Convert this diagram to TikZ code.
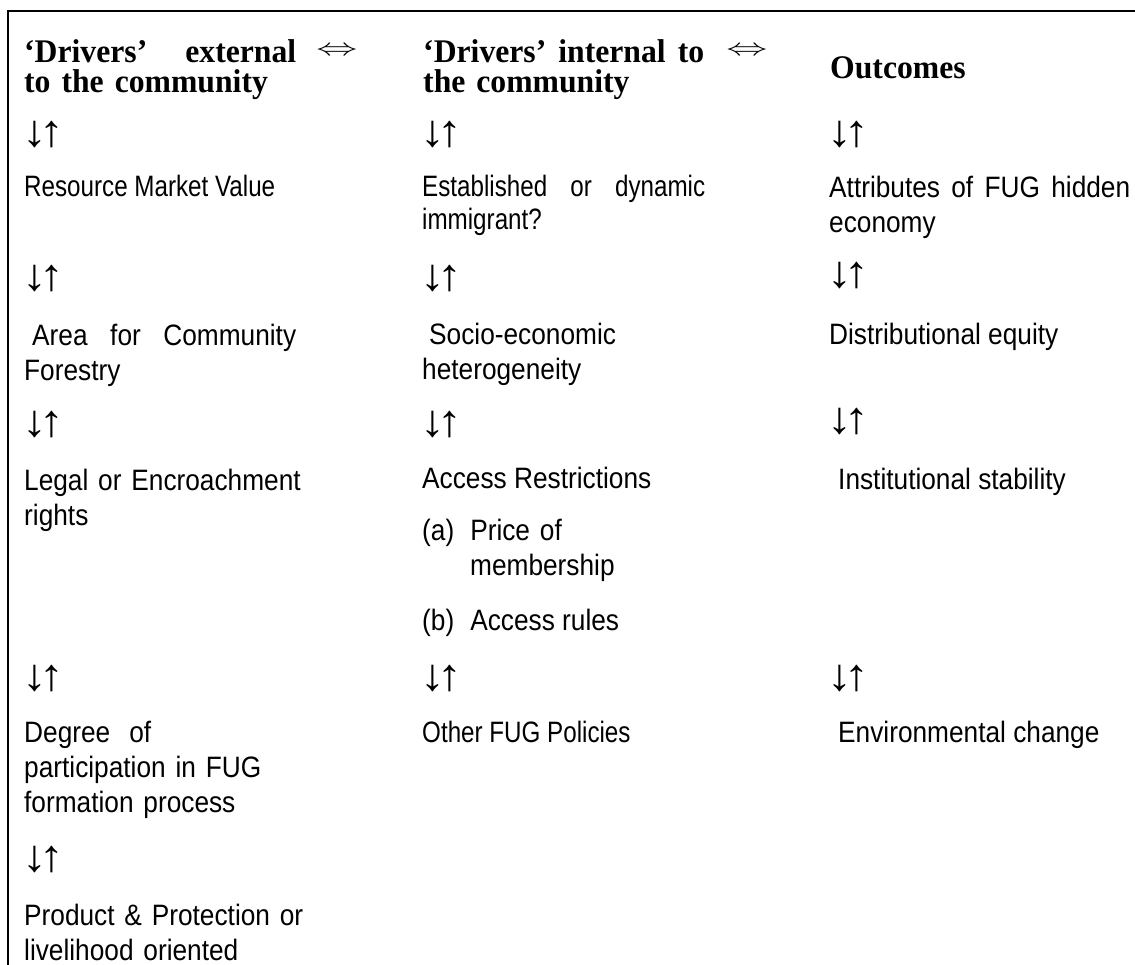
\documentclass[tikz,border=0pt]{standalone}
\usepackage{graphicx}
\usepackage{fontspec}
\newfontfamily\headfont[FakeStretch=0.96]{Liberation Serif}
\newfontfamily\bodyfont[FakeStretch=0.89]{Liberation Sans}
\newfontfamily\narrowfont[FakeStretch=0.82]{Liberation Sans}
\newfontfamily\arrowfont[FakeStretch=1.1]{Liberation Sans}

\begin{document}
\begin{tikzpicture}[x=1pt,y=-1pt,
        head/.style={anchor=base west, inner sep=0pt, align=left, font=\headfont\bfseries\fontsize{33}{29.5}\selectfont},
        body/.style={anchor=base west, inner sep=0pt, align=left, font=\bodyfont\fontsize{29.5}{35}\selectfont},
        narrow/.style={anchor=base west, inner sep=0pt, align=left, font=\narrowfont\fontsize{29.5}{33}\selectfont},
        updown/.style={anchor=base west, inner sep=0pt, font=\arrowfont\fontsize{45}{45}\selectfont},
        iff/.style={inner sep=0pt, font=\fontsize{24.88}{25}\selectfont}]
        \useasboundingbox (0,0) rectangle (1135,965);
        \draw[line width=2.5pt] (8,965) -- (8,11) -- (1135,11);

        \node[head, text width=272pt] (ext) at (24,63) {‘Drivers’\hfill external\\to the community};
        \node[iff] (iffa) at (337,51) {\scalebox{1.65}[0.96]{$\Leftrightarrow$}};
        \node[head, text width=281pt] (int) at (423,63) {‘Drivers’\hfill internal\hfill to\\the community};
        \node[iff] (iffb) at (747,51) {\scalebox{1.65}[0.96]{$\Leftrightarrow$}};
        \node[head] (outc) at (830,79) {Outcomes};

        \node[updown] (ud11) at (22,147) {↓\kern-7pt↑};
        \node[updown] (ud12) at (420,147) {↓\kern-7pt↑};
        \node[updown] (ud13) at (827,147) {↓\kern-7pt↑};
        \node[narrow] (value) at (24,197) {Resource Market Value};
        \node[narrow, text width=283pt] (immig) at (422,197) {Established\hfill or\hfill dynamic\\immigrant?};
        \node[body, text width=301pt] (hidden) at (829,198) {Attributes\hfill of\hfill FUG\hfill hidden\\economy};

        \node[updown] (ud21) at (22,291) {↓\kern-7pt↑};
        \node[updown] (ud22) at (420,291) {↓\kern-7pt↑};
        \node[updown] (ud23) at (827,288) {↓\kern-7pt↑};
        \node[body, text width=272pt] (area) at (24,346) {\hspace*{8pt}Area\hfill for\hfill Community\\Forestry};
        \node[body, text width=300pt] (socio) at (422,345) {\hspace*{7pt}Socio-economic\\heterogeneity};
        \node[body] (equity) at (829,345) {Distributional equity};

        \node[updown] (ud31) at (22,436) {↓\kern-7pt↑};
        \node[updown] (ud32) at (420,436) {↓\kern-7pt↑};
        \node[updown] (ud33) at (827,433) {↓\kern-7pt↑};
        \node[body, text width=320pt] (legal) at (24,490) {Legal or Encroachment\\rights};
        \node[body] (access) at (422,488) {Access Restrictions};
        \node[body, text width=300pt] (price) at (422,540) {(a)\hspace{16pt}Price of\\\hspace*{48pt}membership};
        \node[body] (rules) at (422,630) {(b)\hspace{16pt}Access rules};
        \node[body] (stable) at (838,489) {Institutional stability};

        \node[updown] (ud41) at (22,690) {↓\kern-7pt↑};
        \node[updown] (ud42) at (420,690) {↓\kern-7pt↑};
        \node[updown] (ud43) at (827,690) {↓\kern-7pt↑};
        \node[body, text width=320pt] (degree) at (24,742) {Degree\hspace{19pt}of\\participation in FUG\\formation process};
        \node[narrow] (policy) at (422,742) {Other FUG Policies};
        \node[body] (envir) at (838,742) {Environmental change};

        \node[updown] (ud51) at (22,871) {↓\kern-7pt↑};
        \node[body, text width=320pt] (product) at (24,925) {Product \& Protection or\\livelihood oriented};
\end{tikzpicture}
\end{document}
